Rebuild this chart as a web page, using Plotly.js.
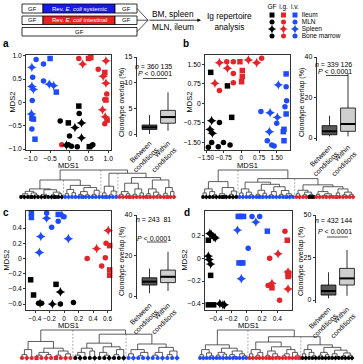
<!DOCTYPE html>
<html><head><meta charset="utf-8">
<script src="https://cdn.plot.ly/plotly-3.0.1.min.js"></script>
<style>html,body{margin:0;padding:0;background:#fff}#chart{width:363px;height:364px}</style>
</head><body><div id="chart"></div>
<script>
// ================= DATA =================
// condition codes: k = GF, r = i.g., b = i.v. ; tissue codes: I ileum, M MLN, S spleen, B bone marrow
const aX=[-0.86,-0.50,-0.67,-0.97,-0.95,-0.67,-0.52,-0.41,-0.34,-0.97,-0.93,-0.96,-0.98,-0.97,-0.93,-0.97,-0.89,
 0.24,0.34,0.49,0.55,0.94,0.74,0.91,0.87,0.94,0.96,0.94,0.91,0.85,0.92,0.97,0.91,-0.20,
 0.24,0.25,-0.24,-0.03,0.31,0.14,0.00,0.31,-0.03,0.05,-0.08,0.20,0.51,0.60,0.55];
const aY=[0.92,0.94,0.82,0.75,0.54,0.46,0.39,0.36,0.22,0.34,0.28,0.04,-0.25,-0.34,-0.36,-0.57,-0.79,
 0.94,0.82,0.94,0.96,0.89,0.71,0.64,0.56,0.41,0.18,0.05,0.06,-0.16,-0.31,-0.38,-0.46,-0.91,
 -0.08,-0.24,-0.40,-0.44,-0.44,-0.54,-0.72,-0.76,-0.91,-0.94,-0.92,-0.95,-0.95,-0.91,-0.94];
const aCond='bbbbbbbbbbbbbbbbbrrrrrrrrrrrrrrrrrkkkkkkkkkkkkkkk';
const aTis ='MIMSMBSSISSBSIIMIMSIISMISSBIMSSIMMIMMISSMSMBSMIMM';

const bX=[-0.93,-0.62,-0.34,-0.06,0.30,0.65,0.86,-0.59,-0.34,0.04,0.04,-1.12,-0.93,-0.34,0.01,
 -1.30,-0.59,-0.41,-1.26,-0.93,-1.33,-1.23,-1.26,-0.76,-1.40,-0.98,-0.48,
 1.57,1.90,1.92,1.85,1.90,0.83,1.22,1.53,1.50,1.81,1.78,1.19,1.10,1.29,1.39,1.81,1.90];
const bY=[1.56,1.60,1.60,1.60,1.67,1.56,1.73,1.35,1.15,1.26,1.03,0.77,0.49,0.79,0.83,
 1.19,0.67,-0.54,-0.67,-0.74,-1.00,-1.15,-1.51,-1.51,-1.69,-1.67,-1.60,
 0.71,0.64,0.10,-0.13,-0.41,-0.32,-0.36,-0.54,-0.77,-1.00,-1.09,-1.09,-1.44,-1.60,-1.64,-1.44,1.13];
const bCond='rrrrrrrrrrrrrrrkkkkkkkkkkkkbbbbbbbbbbbbbbbbb';
const bTis ='SMMISSMSMIISMMIIIISMSSMMMMMSMMMIMSSMIISMMMII';

const cX=[-0.45,-0.45,-0.24,-0.24,-0.08,-0.03,-0.08,0.00,-0.17,-0.32,0.06,-0.34,
 0.61,0.45,0.32,0.58,0.63,0.57,0.52,0.63,0.63,
 -0.46,-0.42,-0.11,-0.05,-0.35,-0.31,-0.33,-0.16,-0.05,0.13];
const cY=[0.60,0.54,0.53,0.60,0.58,0.57,0.49,0.55,0.41,0.29,0.26,0.08,
 0.37,0.13,0.00,0.20,0.17,0.01,-0.10,-0.15,-0.22,
 -0.28,-0.48,-0.34,-0.44,-0.59,-0.59,-0.59,-0.60,-0.60,-0.58];
const cCond='bbbbbbbbbbbbrrrrrrrrrkkkkkkkkkk';
const cTis ='IISMISMMMSSSSSMMIMMIIIIISMMSSMM';

const dX=[-0.11,-0.08,-0.04,0.07,0.17,0.12,-0.12,0.27,0.02,-0.10,-0.07,-0.05,-0.07,
 0.50,0.53,0.41,0.30,0.54,0.54,0.55,0.54,0.33,0.28,0.33,0.54,0.43,
 -0.48,-0.46,-0.43,-0.41,-0.50,-0.50,-0.49,-0.47,-0.47,-0.50,-0.43,-0.35,-0.31,-0.29];
const dY=[0.37,0.37,0.37,0.37,0.37,0.32,0.25,0.24,0.09,-0.04,-0.04,-0.04,-0.18,
 0.24,0.16,0.04,0.00,-0.12,-0.13,-0.15,-0.16,-0.22,-0.24,-0.26,-0.27,-0.37,
 0.22,0.21,0.19,0.18,0.16,0.02,-0.01,-0.05,-0.15,-0.41,-0.41,-0.40,-0.41,-0.41];
const dCond='bbbbbbbbbbbbbrrrrrrrrrrrrrkkkkkkkkkkkkkk';
const dTis ='IIIMMSSIMIIISMISMSIIISMISMSSSSISSSIIISSS';

// tick values / labels
const aTickV=[-1,-0.5,0,0.5,1], aTickT=['\u22121.0','\u22120.5','0','0.5','1.0'];
const bTickV=[-1.5,-0.75,0,0.75,1.5], bTickT=['\u22121.50','\u22120.75','0','0.75','1.50'];
const cXTickV=[-0.4,-0.2,0,0.2,0.4,0.6], cXTickT=['\u22120.4','\u22120.2','0','0.2','0.4','0.6'];
const cYTickV=[-0.6,-0.4,-0.2,0,0.2,0.4], cYTickT=['\u22120.6','\u22120.4','\u22120.2','0','0.2','0.4'];
const dXTickV=[-0.4,-0.2,0,0.2,0.4], dXTickT=['\u22120.4','\u22120.2','0','0.2','0.4'];
const dYTickV=[-0.4,-0.2,0,0.2], dYTickT=['\u22120.4','\u22120.2','0','0.2'];

// box plots: [lower whisker, q1, median, q3, upper whisker] for Between / Within conditions
const aBox=[[0,0.9,1.3,1.75,3.7],[0.65,2.1,3.3,4.6,8.1]];
const bBox=[[0.8,1.6,3.3,6.1,11],[0.8,3.3,6.9,14.8,32]];
const cBox=[[1.3,5.4,7.1,9.0,13.6],[2.5,6.6,9.5,12.8,21.9]];
const dBox=[[1,2.9,5.3,8.8,16.3],[2.5,8.8,12.7,18.6,29.4]];
const boxCats=['Between<br>conditions','Within<br>conditions'];
const aBoxTicks=[0,5,10,15], bBoxTicks=[0,20,40], cBoxTicks=[0,20,40], dBoxTicks=[0,25,50];
const nText=['360 135','339 126','243  81','432 144'];

// dendrograms: node = [height, left, right], 0 = leaf
const treeA=[1,
 [0.63,
  [0.30,[0.21,[0.12,[0.05,0,0],0],[0.15,0,[0.08,0,0]]],[0.27,[0.10,0,[0.05,0,0]],[0.18,[0.08,0,0],[0.12,0,0]]]],
  [0.43,[0.28,[0.12,0,0],[0.16,0,0]],[0.35,[0.20,[0.10,0,0],[0.08,0,0]],[0.25,[0.10,0,0],0]]]],
 [0.88,
  [0.40,[0.15,0,0],[0.22,[0.08,0,0],0]],
  [0.72,[0.51,[0.20,[0.10,0,0],[0.12,0,0]],[0.30,[0.10,0,0],[0.15,0,0]]],[0.63,[0.30,[0.12,0,0],[0.18,0,[0.08,0,0]]],[0.35,[0.14,0,0],[0.20,0,0]]]]]];
const leavesA='ko kd ko ks kd ko kd ko ko kd ks ko kd bo bd bo bo bd bs bo bd bo bo bd bo bs bd bo bo ro rd ro rs rd ro ro rd rs ro rd ro ro rd rs ro rd';
const dashA=[[12.5,0.63],[23.5,1],[28.5,0.88]];

const treeB=[1,
 [0.57,[0.30,[0.15,0,0],[0.20,0,[0.08,0,0]]],[0.35,[0.12,0,[0.06,0,0]],[0.22,[0.10,0,0],0]]],
 [0.68,
  [0.55,[0.30,[0.15,0,0],[0.18,0,[0.08,0,0]]],[0.47,[0.25,[0.10,0,0],[0.14,0,0]],[0.38,[0.20,[0.08,0,0],0],[0.24,[0.10,0,0],[0.12,0,[0.05,0,0]]]]]],
  [0.45,[0.25,[0.12,0,0],[0.18,[0.08,0,0],[0.10,0,0]]],[0.38,[0.20,[0.10,0,0],[0.12,[0.06,0,0],[0.05,0,0]]],[0.30,[0.15,0,0],[0.18,[0.08,0,0],[0.10,0,0]]]]]]];
const leavesB='ko kd ko ko kd ko ks kd ko kd ko bo bd bo bo bd bo bs bo bd bo bo bd bo bo bs bd bo ro rd ro rd ks ks ro rd ro ro rd ro rs ro rd ro ro rd';
const dashB=[[10.5,1],[27.5,0.68]];

const treeC=[1,
 [0.59,[0.30,[0.12,0,0],0],[0.35,[0.20,[0.10,0,0],[0.12,0,0]],[0.25,[0.10,0,0],[0.15,0,0]]]],
 [0.85,
  [0.53,[0.35,[0.20,[0.10,0,0],0],[0.25,0,0]],[0.40,[0.20,0,[0.10,0,0]],[0.30,[0.12,0,0],0]]],
  [0.50,[0.30,[0.15,0,0],[0.20,[0.08,0,0],0]],[0.38,[0.20,[0.10,0,0],0],[0.25,[0.12,0,0],0]]]]];
const leavesC='ro rd ro rs ro rd ro rs ro rd ro ko kd ko ko kd ko ko kd ko ko kd bo bd bo bo bd bo bo bd bo bo bd';
const dashC=[[10.5,1],[21.5,0.85]];

const treeD=[1,
 [0.47,[0.30,[0.12,0,0],[0.18,0,[0.08,0,0]]],[0.35,[0.20,[0.10,0,0],[0.14,0,0]],[0.25,[0.12,0,[0.05,0,0]],[0.15,0,[0.08,0,0]]]]],
 [0.76,
  [0.57,[0.30,[0.15,0,0],[0.20,[0.10,0,0],0]],[0.40,[0.25,[0.10,0,0],[0.15,0,[0.06,0,0]]],[0.30,[0.15,[0.08,0,0],0],[0.20,0,[0.10,0,0]]]]],
  [0.47,[0.30,[0.15,0,0],[0.20,0,[0.08,0,0]]],[0.38,[0.20,[0.10,0,0],[0.12,0,0]],[0.28,[0.15,0,[0.06,0,0]],[0.18,[0.08,0,0],[0.10,0,0]]]]]]];
const leavesD='bo bd bo bo bd bo bo bd bo bo bd bo bo bd bo ro rd ro ro rd ro rs rd ro ro rd ro ro rd ro rs ko kd ko ko kd ko ko kd ko ko kd ko ko kd ko kd';
const dashD=[[14.5,1],[30.5,0.76]];

// legend categories
const legCond=['GF','i.g.','i.v.'], legCondCode=['k','r','b'];
const legTis=['Ileum','MLN','Spleen','Bone marrow'], legTisCode=['I','M','S','B'];

// ================= STYLE / LAYOUT HELPERS =================
const W=363,H=364;
const FONT='Liberation Sans, Arial, sans-serif';
const COL={k:'#000000',r:'#e3242b',b:'#1f4bff'};
const SYM={I:'square',M:'circle',S:'star-diamond',B:'circle',o:'circle',d:'diamond',s:'square'};
const SIZE={I:5.5,M:5.5,S:7,B:5.5};
const px=x=>x/W, py=y=>1-y/H;
const xdom=(a,b)=>[a/W,b/W], ydom=(t,b)=>[1-b/H,1-t/H];
function lin(pa,va,pb,vb){const k=(vb-va)/(pb-pa);return p=>va+(p-pa)*k;}

const traces=[], layout={width:W,height:H,margin:{l:0,r:0,t:0,b:0},showlegend:false,
  paper_bgcolor:'#fff',plot_bgcolor:'rgba(0,0,0,0)',font:{family:FONT,size:7,color:'#000'},
  annotations:[],shapes:[]};
const ann=(o)=>layout.annotations.push(Object.assign({xref:'paper',yref:'paper',xanchor:'center',yanchor:'middle',
  showarrow:false,borderpad:0,font:{family:FONT,size:7,color:'#000'}},o));
const shp=(o)=>layout.shapes.push(Object.assign({xref:'paper',yref:'paper',opacity:1,line:{color:'#000',width:0.8}},o));

function scatterPanel(n,X,Y,C,T,g){
  const fx=lin(g.xt[0],g.xt[1],g.xt[2],g.xt[3]), fy=lin(g.yt[0],g.yt[1],g.yt[2],g.yt[3]);
  const common={showline:true,mirror:true,linecolor:'#000',linewidth:0.8,ticks:'outside',ticklen:2,tickwidth:0.8,
    tickcolor:'#000',showgrid:false,zeroline:false,tickangle:0,fixedrange:true};
  layout['xaxis'+(n===1?'':n)]=Object.assign({},common,{domain:xdom(g.x0,g.x1),range:[fx(g.x0),fx(g.x1)],
    tickvals:g.xv,ticktext:g.xl,anchor:'y'+n,automargin:false,tickfont:{size:g.xfs,family:FONT}});
  layout['yaxis'+(n===1?'':n)]=Object.assign({},common,{domain:ydom(g.y0,g.y1),range:[fy(g.y1),fy(g.y0)],
    tickvals:g.yv,ticktext:g.yl,anchor:'x'+n,automargin:false,tickfont:{size:6.8,family:FONT}});
  const cs=C.split(''), ts=T.split('');
  traces.push({type:'scatter',mode:'markers',x:X,y:Y,xaxis:'x'+n,yaxis:'y'+n,hoverinfo:'skip',cliponaxis:false,
    marker:{color:cs.map(c=>COL[c]),symbol:ts.map(t=>SYM[t]),size:ts.map(t=>SIZE[t]),opacity:1,line:{width:0}}});
  ann({x:px((g.x0+g.x1)/2),y:py(g.titleY),text:'MDS1',font:{family:FONT,size:7.5}});
  ann({x:px(g.titleX),y:py((g.y0+g.y1)/2),text:'MDS2',textangle:-90,font:{family:FONT,size:7.5}});
}

function boxPanel(n,B,ticks,g){
  const X0=g.X0, c0=12.5, step=18.5;
  const fy=lin(g.zeroY,0,g.topY,ticks[ticks.length-1]);
  layout['xaxis'+n]={domain:xdom(X0,X0+43),range:[-c0/step,(43-c0)/step],showline:false,ticks:'',showgrid:false,
    zeroline:false,tickvals:[0,1],ticktext:boxCats,tickangle:-45,tickfont:{size:7,family:FONT},anchor:'y'+n,fixedrange:true,automargin:false};
  layout['yaxis'+n]={domain:ydom(g.topY,g.zeroY+3),range:[fy(g.zeroY+3),ticks[ticks.length-1]],showline:true,linecolor:'#000',
    linewidth:0.8,ticks:'outside',ticklen:2.5,tickwidth:0.8,tickcolor:'#000',showgrid:false,zeroline:false,
    tickvals:ticks,tickfont:{size:7,family:FONT},anchor:'x'+n,fixedrange:true,automargin:false};
  const fills=['#5a5a5a','#cfcfcf'], bw=0.8;
  B.forEach((s,i)=>{
    traces.push({type:'box',x:[i],lowerfence:[s[0]],q1:[s[1]],median:[s[2]],q3:[s[3]],upperfence:[s[4]],
      width:bw,whiskerwidth:0,fillcolor:fills[i],line:{color:'#000',width:0.8},boxpoints:false,
      xaxis:'x'+n,yaxis:'y'+n,hoverinfo:'skip'});
    traces.push({type:'scatter',mode:'lines',x:[i-bw/2,i+bw/2],y:[s[2],s[2]],line:{color:'#000',width:2},
      xaxis:'x'+n,yaxis:'y'+n,hoverinfo:'skip'});
  });
  ann({x:px(g.nX),y:py(g.nY),text:'<i>n</i> = '+g.nT});
  ann({x:px(g.pX),y:py(g.pY),text:'<i>P</i> &lt; 0.0001'});
  shp({type:'line',x0:px(g.l0),x1:px(g.l1),y0:py(g.lY),y1:py(g.lY),line:{color:'#000',width:0.7}});
  ann({x:px(X0-15),y:py(g.tY),text:'Clonotype overlap (%)',textangle:-90});
}

function dendroPanel(n,tree,codes,dash,g){
  const cs=codes.split(' '), N=cs.length, s=(g.l1-g.l0)/(N-1), k=g.yl-g.yt;
  layout['xaxis'+n]={domain:xdom(g.l0-s,g.l1+s),range:[-1,N],visible:false,fixedrange:true,anchor:'y'+n};
  layout['yaxis'+n]={domain:ydom(g.yt-3,g.yl+3),range:[-3/k,1+3/k],visible:false,fixedrange:true,anchor:'x'+n};
  const sx=[],sy=[],lx=[],ly=[],lc=[],ls=[]; let i=0;
  (function rec(nd){
    if(nd===0){const c=cs[i]||'ko';lx.push(i);ly.push(0);lc.push(COL[c[0]]);ls.push(SYM[c[1]]);return [i++,0];}
    const l=rec(nd[1]), r=rec(nd[2]), h=nd[0];
    sx.push(l[0],l[0],r[0],r[0],null); sy.push(l[1],h,h,r[1],null);
    return [(l[0]+r[0])/2,h];
  })(tree);
  const dx=[],dy=[]; dash.forEach(d=>{dx.push(d[0],d[0],null);dy.push(d[1],0,null);});
  traces.push({type:'scatter',mode:'lines',x:dx,y:dy,xaxis:'x'+n,yaxis:'y'+n,hoverinfo:'skip',
    line:{color:'#9a9a9a',width:0.8,dash:'2px,1.5px'}});
  traces.push({type:'scatter',mode:'lines',x:sx,y:sy,xaxis:'x'+n,yaxis:'y'+n,hoverinfo:'skip',
    line:{color:'#333',width:0.8}});
  traces.push({type:'scatter',mode:'markers',x:lx,y:ly,xaxis:'x'+n,yaxis:'y'+n,hoverinfo:'skip',cliponaxis:false,
    marker:{color:lc,symbol:ls,size:g.ms,opacity:1,line:{width:0}}});
}

// ================= PANELS =================
scatterPanel(1,aX,aY,aCond,aTis,{x0:26,x1:111,y0:55,y1:150,xt:[30.7,-1,108.3,1],yt:[55.7,1,149,-1],
  xv:aTickV,xl:aTickT,yv:aTickV,yl:aTickT,titleY:165.5,titleX:12,xfs:6.8});
scatterPanel(3,bX,bY,bCond,bTis,{x0:205,x1:290,y0:55,y1:150,xt:[206,-1.5,276.7,1.5],yt:[64.3,1.5,142.3,-1.5],
  xv:bTickV,xl:bTickT,yv:bTickV,yl:bTickT,titleY:165.5,titleX:189,xfs:6.3});
scatterPanel(7,cX,cY,cCond,cTis,{x0:26,x1:111,y0:211,y1:310,xt:[35,-0.4,107.5,0.6],yt:[228.1,0.4,304.1,-0.6],
  xv:cXTickV,xl:cXTickT,yv:cYTickV,yl:cYTickT,titleY:325.5,titleX:6,xfs:6.5});
scatterPanel(9,dX,dY,dCond,dTis,{x0:205,x1:292,y0:211,y1:310,xt:[216,-0.4,277.3,0.4],yt:[235.7,0.2,303.7,-0.4],
  xv:dXTickV,xl:dXTickT,yv:dYTickV,yl:dYTickT,titleY:325.5,titleX:184,xfs:6.5});

boxPanel(2,aBox,aBoxTicks,{X0:137,topY:57,zeroY:134,nT:nText[0],nX:153,nY:66,pX:155,pY:74,l0:143,l1:167,lY:78.5,tY:103});
boxPanel(4,bBox,bBoxTicks,{X0:317,topY:57,zeroY:138,nT:nText[1],nX:333,nY:64,pX:335,pY:72,l0:326,l1:348,lY:75.5,tY:103});
boxPanel(8,cBox,cBoxTicks,{X0:137,topY:215,zeroY:296,nT:nText[2],nX:153,nY:219,pX:154,pY:238,l0:147,l1:167,lY:242,tY:262});
boxPanel(10,dBox,dBoxTicks,{X0:316,topY:215,zeroY:300,nT:nText[3],nX:333,nY:220,pX:335,pY:232,l0:327,l1:348,lY:237,tY:262});

dendroPanel(5,treeA,leavesA,dashA,{l0:21,l1:174,yl:197,yt:170,ms:3.8});
dendroPanel(6,treeB,leavesB,dashB,{l0:203,l1:353,yl:197,yt:170,ms:3.8});
dendroPanel(11,treeC,leavesC,dashC,{l0:22,l1:177,yl:358,yt:330,ms:4.2});
dendroPanel(12,treeD,leavesD,dashD,{l0:200,l1:352,yl:358,yt:330,ms:3.8});

// panel letters
[['a',6,43.5],['b',185.5,43.5],['c',6,212],['d',187,212]].forEach(l=>ann({x:px(l[1]),y:py(l[2]),text:'<b>'+l[0]+'</b>',font:{family:FONT,size:10}}));

// ================= SCHEMATIC =================
const BLUE_S='#1a1ae6', RED_S='#e8231f';
[[4,13,BLUE_S],[16,24.5,RED_S]].forEach(r=>{
  shp({type:'rect',x0:px(22),x1:px(43),y0:py(r[1]),y1:py(r[0]),fillcolor:'#fff'});
  shp({type:'rect',x0:px(43),x1:px(115),y0:py(r[1]),y1:py(r[0]),fillcolor:r[2]});
  shp({type:'rect',x0:px(115),x1:px(137),y0:py(r[1]),y1:py(r[0]),fillcolor:'#fff'});
});
shp({type:'rect',x0:px(22),x1:px(137),y0:py(36),y1:py(27.5),fillcolor:'#fff'});
const sf={family:FONT,size:6,color:'#000'}, sfw={family:FONT,size:6,color:'#fff'};
ann({x:px(32.5),y:py(8.7),text:'GF',font:sf}); ann({x:px(126),y:py(8.7),text:'GF',font:sf});
ann({x:px(79),y:py(8.7),text:'Rev. <i>E. coli</i> systemic',font:sfw});
ann({x:px(32.5),y:py(20.4),text:'GF',font:sf}); ann({x:px(126),y:py(20.4),text:'GF',font:sf});
ann({x:px(79),y:py(20.4),text:'Rev. <i>E. coli</i> intestinal',font:sfw});
ann({x:px(79.5),y:py(31.9),text:'GF',font:sf});
[[8.5],[20.2],[31.7]].forEach(r=>shp({type:'line',x0:px(137),y0:py(r[0]),x1:px(148),y1:py(20.2),line:{color:'#000',width:0.7}}));
layout.annotations.push({xref:'paper',yref:'paper',axref:'paper',ayref:'paper',x:px(201),y:py(20.2),ax:px(148),ay:py(20.2),
  showarrow:true,arrowhead:2,arrowsize:0.9,arrowwidth:0.8,arrowcolor:'#000',text:''});
ann({x:px(173),y:py(14),text:'BM, spleen',font:{family:FONT,size:8.3}});
ann({x:px(173),y:py(27.2),text:'MLN, ileum',font:{family:FONT,size:8.3}});
ann({x:px(229),y:py(21),text:'Ig repertoire<br>analysis',font:{family:FONT,size:8.3}});

// ================= LEGEND (categorical grid) =================
layout.xaxis13={domain:xdom(266.25,300.75),type:'category',categoryorder:'array',categoryarray:legCond,range:[-0.5,2.5],
  tickmode:'array',tickvals:legCond,ticktext:legCond,tickangle:0,
  side:'top',showline:false,ticks:'',showgrid:false,zeroline:false,tickfont:{size:6.5,family:FONT},anchor:'y13',fixedrange:true,automargin:false};
layout.yaxis13={domain:ydom(11.5,39.5),type:'category',categoryorder:'array',categoryarray:legTis,range:[3.5,-0.5],
  tickmode:'array',tickvals:legTis,ticktext:legTis,
  side:'right',showline:false,ticks:'',showgrid:false,zeroline:false,tickfont:{size:6.5,family:FONT},anchor:'x13',fixedrange:true,automargin:false};
const lgx=[],lgy=[],lgc=[],lgs=[],lgz=[];
legTis.forEach((t,j)=>legCond.forEach((c,i)=>{lgx.push(c);lgy.push(t);lgc.push(COL[legCondCode[i]]);
  lgs.push(SYM[legTisCode[j]]);lgz.push(legTisCode[j]==='S'?6.5:5);}));
traces.push({type:'scatter',mode:'markers',x:lgx,y:lgy,xaxis:'x13',yaxis:'y13',hoverinfo:'skip',cliponaxis:false,
  marker:{color:lgc,symbol:lgs,size:lgz,opacity:1,line:{width:0}}});

Plotly.newPlot('chart',traces,layout,{displayModeBar:false,staticPlot:true});
</script></body></html>
